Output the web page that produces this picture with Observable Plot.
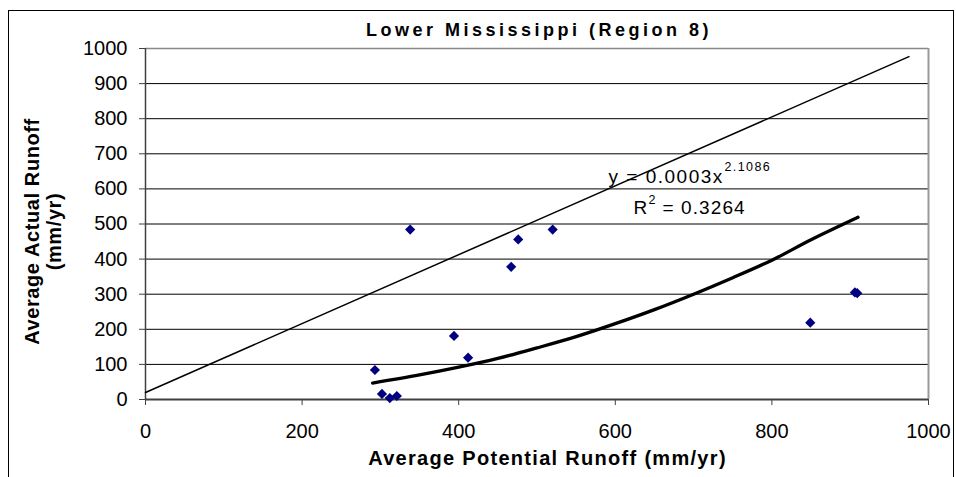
<!DOCTYPE html>
<html>
<head>
<meta charset="utf-8">
<script src="https://cdn.jsdelivr.net/npm/d3@7"></script>
<script src="https://cdn.jsdelivr.net/npm/@observablehq/plot@0.6"></script>
<style>
  html, body { margin: 0; padding: 0; background: #fff; }
  #wrap { position: relative; width: 956px; height: 477px; overflow: hidden; }
  #border { position: absolute; left: 8px; top: 10px; width: 944px; height: 500px; border: 1px solid #000; pointer-events: none; }
</style>
</head>
<body>
<div id="wrap"><div id="border"></div></div>
<script>
const potentialRunoff = [293, 302, 312, 321, 338, 394, 412, 467, 476, 520, 849, 906, 909];
const actualRunoff    = [84, 16, 4, 10, 484, 181, 119, 378, 456, 484, 219, 305, 303];

// Power trendline
const trendX = [290, 350, 400, 450, 500, 550, 600, 650, 700, 750, 800, 850, 910];
const trendY = [47, 70, 92, 117, 147, 179, 216, 256, 300, 347, 397, 455, 519];

// Reference line as drawn
const refX = [0, 975];
const refY = [20, 977];

const xTicks = [0, 200, 400, 600, 800, 1000];
const yTicks = [0, 100, 200, 300, 400, 500, 600, 700, 800, 900, 1000];
const yGrid = [100, 200, 300, 400, 500, 600, 700, 800, 900];

const titleText = "Lower Mississippi (Region 8)";
const xTitle = "Average Potential Runoff (mm/yr)";
const yTitle1 = "Average Actual Runoff";
const yTitle2 = "(mm/yr)";
const eqMain = "y = 0.0003x";
const eqExp = "2.1086";
const r2Label = "R";
const r2Sup = "2";
const r2Value = "= 0.3264";

const points = potentialRunoff.map((x, i) => ({x, y: actualRunoff[i]}));
const trend = trendX.map((x, i) => ({x, y: trendY[i]}));
const ref = refX.map((x, i) => ({x, y: refY[i]}));

const FONT = "'Liberation Sans', Arial, sans-serif";
const one = (s) => [s];
const T = {text: d => d, lineAnchor: "middle", fill: "#000"};

const chart = Plot.plot({
  width: 956,
  height: 477,
  marginLeft: 145,
  marginRight: 28,
  marginTop: 48,
  marginBottom: 78,
  style: {fontFamily: FONT, fontSize: "20px", color: "#000", background: "transparent", overflow: "visible"},
  x: {domain: [0, 1000]},
  y: {domain: [0, 1000]},
  marks: [
    Plot.ruleY(yGrid, {stroke: "#000", strokeWidth: 1}),
    Plot.ruleY([1000], {stroke: "#888", strokeWidth: 1.5}),
    Plot.ruleX([1000], {stroke: "#999", strokeWidth: 2}),
    Plot.axisX({ticks: xTicks, tickSize: 6, tickPadding: 18, label: null, stroke: "#404040", fontSize: 20, tickFormat: d => String(d)}),
    Plot.axisY({ticks: yTicks, tickSize: 6, tickPadding: 12, label: null, stroke: "#404040", fontSize: 20, tickFormat: d => String(d)}),
    Plot.ruleX([0], {stroke: "#404040", strokeWidth: 1.5}),
    Plot.ruleY([0], {stroke: "#404040", strokeWidth: 2}),
    Plot.line(ref, {x: "x", y: "y", stroke: "#000", strokeWidth: 1.5}),
    Plot.line(trend, {x: "x", y: "y", stroke: "#000", strokeWidth: 3.3, curve: "catmull-rom"}),
    Plot.dot(points, {x: "x", y: "y", symbol: "diamond2", r: 4.6, fill: "#000080", stroke: "none"}),
    // Title
    Plot.text(one(titleText), {...T, frameAnchor: "top", textAnchor: "middle", dx: 2, dy: -18.4, fontSize: 18, fontWeight: "bold"}),
    // Axis titles
    Plot.text(one(xTitle), {...T, frameAnchor: "bottom", textAnchor: "middle", dx: 10.5, dy: 59.5, fontSize: 20, fontWeight: "bold"}),
    Plot.text(one(yTitle1), {...T, frameAnchor: "left", textAnchor: "middle", rotate: -90, dx: -113, dy: 7.5, fontSize: 20, fontWeight: "bold"}),
    Plot.text(one(yTitle2), {...T, frameAnchor: "left", textAnchor: "middle", rotate: -90, dx: -91, dy: 7.5, fontSize: 20, fontWeight: "bold"}),
    // Equation annotation
    Plot.text(one(eqMain), {...T, frameAnchor: "top-left", textAnchor: "start", dx: 463, dy: 128, fontSize: 19}),
    Plot.text(one(eqExp), {...T, frameAnchor: "top-left", textAnchor: "start", dx: 579, dy: 118, fontSize: 12.5}),
    Plot.text(one(r2Label), {...T, frameAnchor: "top-left", textAnchor: "start", dx: 488, dy: 159, fontSize: 19}),
    Plot.text(one(r2Sup), {...T, frameAnchor: "top-left", textAnchor: "start", dx: 503, dy: 151, fontSize: 12.5}),
    Plot.text(one(r2Value), {...T, frameAnchor: "top-left", textAnchor: "start", dx: 517, dy: 159, fontSize: 19})
  ]
});

// letter spacing tweaks for Excel-like wide text
d3.select(chart).selectAll("text").each(function() {
  const t = this.textContent;
  if (t === titleText) this.style.letterSpacing = "3.5px";
  if (t === xTitle) this.style.letterSpacing = "1.3px";
  if (t === yTitle1 || t === yTitle2) this.style.letterSpacing = "0.6px";
  if (t === eqMain) this.style.letterSpacing = "1.5px";
  if (t === r2Value) this.style.letterSpacing = "1.1px";
  if (t === eqExp) this.style.letterSpacing = "1.4px";
});

document.getElementById("wrap").prepend(chart);
</script>
</body>
</html>
